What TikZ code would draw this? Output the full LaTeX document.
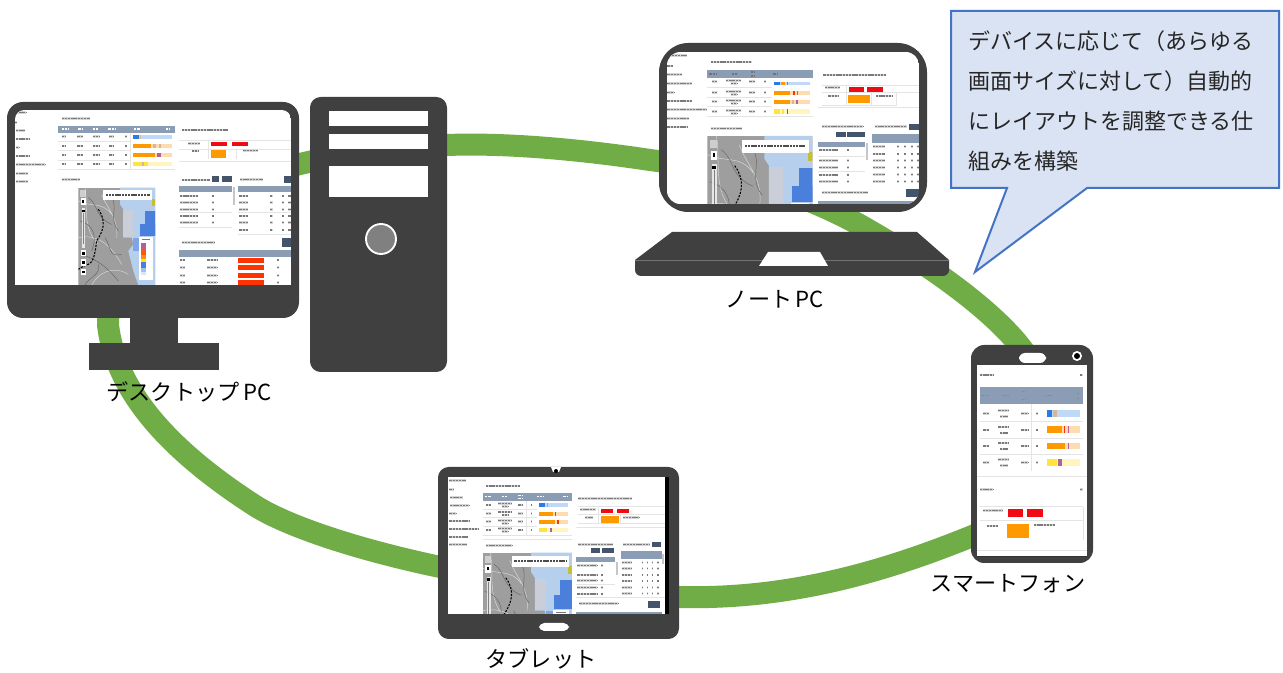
\documentclass[tikz,border=0pt]{standalone}
\usepackage{fontspec}
\setmainfont{Noto Sans CJK JP}
\definecolor{dev}{HTML}{404040}
\definecolor{ringg}{HTML}{70AD47}
\definecolor{hdr}{HTML}{8A9DB5}
\definecolor{btn}{HTML}{44546A}
\definecolor{txg}{HTML}{7A7A7A}
\definecolor{cfill}{HTML}{DAE3F3}
\definecolor{cline}{HTML}{4472C4}
\definecolor{pb}{HTML}{2B7BE4}\definecolor{pbl}{HTML}{BFD9F7}
\definecolor{po}{HTML}{FF9900}\definecolor{pol}{HTML}{FFDCB0}
\definecolor{py}{HTML}{FFE53B}\definecolor{pyl}{HTML}{FFF5BE}
\definecolor{pm}{HTML}{B0609A}\definecolor{pt}{HTML}{D8B890}
\definecolor{rbtn}{HTML}{F00A14}\definecolor{fr}{HTML}{FF3300}
\definecolor{land}{HTML}{9E9E9E}\definecolor{sea}{HTML}{B5CFEC}
\definecolor{pale}{HTML}{C9CED8}\definecolor{deep}{HTML}{4A7FDB}
\definecolor{sep}{HTML}{E4E4E4}
\tikzset{
  blur/.style={draw=txg,line width=1.1pt,dash pattern=on 1.8pt off 0.6pt,preaction={draw=black!16,solid,line width=2.1pt}},
  blurw/.style={draw=white,line width=1.1pt,dash pattern=on 1.8pt off 0.6pt},
  sepl/.style={draw=sep,line width=0.7pt},
  devbody/.style={fill=dev},
  lab/.style={font=\fontsize{16.6}{20}\selectfont,text=black,inner sep=0pt},
  zoomed/.style={x=0.25pt,y=-0.25pt},
}
% blur text line
\newcommand\bt[3]{\draw[blur] (#1,#3) -- (#2,#3);}
% progress bar: x1 split x2 y1 y2 strong light
\newcommand\pbar[7]{\fill[#7] (#1,#4) rectangle (#3,#5);\fill[#6] (#1,#4) rectangle (#2,#5);}
\newcommand\mk[5]{\fill[#5] (#1,#3) rectangle (#2,#4);}
% map: x y scale clipw cliph
\newcommand\mapart[5]{%
\begin{scope}[shift={(#1,#2)},scale=#3]
\clip (0,0) rectangle (#4,#5);
\fill[land] (0,0) rectangle (240,292);
\fill[sea] (125,0) -- (240,0) -- (240,292) -- (180,292) -- (165,250) -- (150,190) -- (165,170) -- (160,150) -- (135,150) -- (135,65) -- (125,50) -- cycle;
\fill[pale] (135,67) rectangle (165,147);
\fill[deep] (200,70) rectangle (240,145);
\fill[deep] (185,110) rectangle (240,145);
\fill[deep!70!white] (165,150) rectangle (200,190);
\fill[yellow!75!black] (220,35) rectangle (240,55);
\draw[white!85!black,line width=0.35pt] (0,40) .. controls (40,60) and (70,40) .. (100,80) (20,0) .. controls (30,60) and (10,120) .. (60,170) (0,150) .. controls (50,140) and (90,160) .. (130,230) (40,292) .. controls (70,240) and (120,240) .. (150,260) (70,20) .. controls (90,70) and (120,90) .. (115,150);
\draw[black!60,line width=0.35pt] (30,30) .. controls (60,50) and (50,90) .. (100,110) (5,100) .. controls (40,110) and (60,140) .. (40,190) (80,150) .. controls (100,180) and (90,210) .. (130,200) (10,200) .. controls (50,215) and (80,230) .. (120,280) (100,30) .. controls (120,60) and (90,90) .. (120,130) (60,230) .. controls (70,260) and (30,270) .. (20,292);
\draw[black,line width=0.8pt,dash pattern=on 1.6pt off 1pt] (60,65) .. controls (85,100) and (75,130) .. (55,160) .. controls (50,200) and (45,225) .. (30,230) .. controls (15,235) and (8,240) .. (0,245);
\fill[white] (75,8) rectangle (222,38);
\draw[draw=black!70,line width=1.1pt,dash pattern=on 1.8pt off 0.6pt] (82,22) -- (215,22);
\fill[white,opacity=0.5] (5,8) rectangle (22,27);
\fill[white] (7,32) rectangle (22,52);
\fill[black] (12,38) rectangle (17,46);
\fill[white,opacity=0.75] (10,62) rectangle (21,180);
\draw[gray,line width=0.6pt] (15,75) -- (15,170);
\fill[black] (11,66) rectangle (19,72);
\fill[white] (8,188) rectangle (22,206);\fill[black] (11,192) rectangle (19,202);
\fill[white] (8,214) rectangle (22,234);\fill[black] (11,220) rectangle (19,228);
\fill[white] (8,244) rectangle (22,262);\fill[black] (11,250) rectangle (19,256);
\fill[white] (183,147) rectangle (223,277);
\fill[pm] (188,167) rectangle (202,187);
\fill[orange!70!red] (188,187) rectangle (202,202);
\fill[orange!90!white] (188,202) rectangle (202,214);
\fill[yellow!90!orange] (188,214) rectangle (202,224);
\fill[deep] (188,224) rectangle (202,240);
\fill[deep!50!white] (188,240) rectangle (202,252);
\fill[deep!20!white] (188,252) rectangle (202,262);
\draw[draw=txg,line width=0.8pt] (190,155) -- (216,155);
\end{scope}}
\begin{document}
\begin{tikzpicture}[x=0.75pt,y=-0.75pt]
\useasboundingbox (0,0) rectangle (1283,673);
\fill[white] (0,0) rectangle (1283,673);
% ring
\draw[ringg,line width=16.5pt] (108,325) .. controls (115,385) and (160,445) .. (257,507) .. controls (320,545) and (500,590) .. (680,597) .. controls (800,600) and (900,565) .. (970,537) .. controls (1065,498) and (1075,410) .. (1015,340) .. controls (980,300) and (920,260) .. (872,232) .. controls (810,195) and (730,170) .. (650,160) .. controls (570,148) and (500,143) .. (447,145) .. controls (380,146) and (110,170) .. (108,325) -- cycle;

% ---------- desktop
\fill[devbody,rounded corners=12] (7,102) rectangle (299,318);
\fill[devbody] (130,316) rectangle (178,344);
\fill[devbody] (89,343) rectangle (219,370);
\begin{scope}
\clip[rounded corners=7] (15,110) rectangle (291,300);
\clip (15,110) rectangle (291,285);
\fill[white] (15,110) rectangle (291,285);
\begin{scope}[shift={(0,90)},zoomed]
\bt{48}{78}{68}\bt{46}{52}{97}\bt{48}{75}{122}\bt{48}{88}{147}\bt{48}{58}{173}\bt{48}{90}{198}\bt{48}{135}{224}\bt{48}{85}{250}\bt{48}{85}{275}
\bt{185}{270}{85}
\fill[hdr] (175,108) rectangle (525,128);
\draw[blurw] (185,117) -- (205,117) (235,117) -- (250,117) (278,117) -- (295,117) (325,117) -- (345,117) (402,117) -- (420,117) (498,117) -- (510,117);
\foreach \yy in {140,168,195,222}{\bt{185}{198}{\yy}\bt{232}{250}{\yy}\bt{278}{300}{\yy}\bt{328}{342}{\yy}\bt{375}{382}{\yy}}
\draw[sepl] (175,155) -- (390,155) (175,182) -- (390,182) (175,210) -- (390,210) (175,237) -- (525,237) (390,128) -- (390,237);
\pbar{398}{418}{517}{134}{148}{pb}{pbl}\mk{420}{424}{134}{148}{pt}
\pbar{398}{453}{517}{162}{175}{po}{pol}\mk{460}{468}{162}{175}{pt}\mk{478}{484}{162}{175}{pt}
\pbar{398}{465}{517}{188}{200}{po}{pol}\mk{470}{482}{188}{200}{pm}
\pbar{398}{445}{517}{215}{228}{py}{pyl}\mk{425}{432}{215}{228}{pt}
\bt{545}{685}{120}
\draw[sepl] (537,150) -- (873,150) (537,178) -- (873,178) (537,215) -- (873,215) (625,150) -- (625,208) (710,178) -- (710,208);
\bt{565}{600}{160}\bt{575}{595}{183}\bt{730}{775}{182}
\fill[rbtn] (632,155) rectangle (680,168);\fill[rbtn] (695,155) rectangle (745,168);
\fill[po] (632,180) rectangle (678,205);
\bt{185}{240}{268}
\mapart{235}{293}{1}{230}{292}
\bt{545}{630}{270}
\fill[btn] (637,258) rectangle (657,275);\fill[btn] (665,258) rectangle (697,275);
\fill[hdr] (537,288) rectangle (697,305);
\foreach \yy in {318,338,358,378,398}{\bt{540}{595}{\yy}\bt{635}{642}{\yy}}
\draw[sepl] (537,368) -- (697,368) (537,413) -- (697,413);
\fill[sep!70!gray] (699,290) rectangle (705,345);
\bt{720}{790}{268}
\fill[btn] (853,258) rectangle (873,278);
\fill[hdr] (715,288) rectangle (873,305);
\foreach \yy in {318,338,358,378,398,420}{\bt{718}{745}{\yy}\bt{810}{818}{\yy}\bt{845}{852}{\yy}\bt{865}{872}{\yy}}
\draw[sepl] (715,368) -- (873,368) (715,432) -- (873,432);
\bt{545}{645}{458}
\fill[btn] (845,445) rectangle (873,470);
\fill[hdr] (537,480) rectangle (873,500);
\foreach \yy in {510,533,556,578}{\bt{540}{555}{\yy}\bt{622}{652}{\yy}\fill[fr] (713,\yy-7) rectangle (793,\yy+8);\bt{832}{838}{\yy}}
\end{scope}
\end{scope}

% ---------- tower
\fill[devbody,rounded corners=8] (310,97) rectangle (447,372);
\fill[white] (329,111) rectangle (428,126);
\fill[white] (329,134) rectangle (428,149);
\fill[white] (329,166) rectangle (428,197);
\draw[white,fill=gray,line width=1.4pt] (381,239) circle (15);

% ---------- laptop
\fill[devbody,rounded corners=22] (659,43) rectangle (927,212);
\fill[devbody] (672,232) -- (917,232) -- (949,260) -- (949,270) arc (0:90:6) -- (641,276) arc (90:180:6) -- (635,260) -- cycle;
\draw[gray!80!dev,line width=0.3pt] (635,260) -- (949,260);
\fill[white] (768,252) -- (820,252) -- (828,266) -- (759,266) -- cycle;
\begin{scope}
\clip[rounded corners=10] (667,52) rectangle (919,204);
\fill[white] (667,52) rectangle (919,204);
\begin{scope}[shift={(650,40)},zoomed]
\bt{55}{110}{47}\bt{52}{68}{78}\bt{52}{95}{104}\bt{52}{125}{130}\bt{52}{72}{157}\bt{52}{125}{183}\bt{52}{172}{208}\bt{52}{118}{235}\bt{52}{115}{261}
\bt{182}{305}{66}
\fill[hdr] (172,90) rectangle (490,115);
\draw[blurw,draw=black!55] (178,102) -- (198,102) (245,102) -- (260,102) (302,96) -- (312,96) (302,108) -- (312,108) (370,102) -- (385,102);
\foreach \yy in {125,158,185,215}{\bt{185}{200}{\yy}\bt{228}{272}{\yy-4}\bt{242}{262}{\yy+5}\bt{298}{315}{\yy}\bt{342}{348}{\yy}}
\draw[sepl] (172,143) -- (365,143) (172,172) -- (365,172) (172,200) -- (365,200) (172,230) -- (490,230);
\pbar{373}{390}{480}{125}{135}{pb}{pbl}\mk{392}{405}{125}{135}{po}\mk{410}{414}{125}{135}{pm}
\pbar{373}{420}{480}{152}{165}{po}{pol}\mk{430}{436}{152}{165}{fr}\mk{440}{445}{152}{165}{pm}
\pbar{373}{420}{480}{180}{192}{po}{pol}\mk{425}{432}{180}{192}{pt}\mk{438}{445}{180}{192}{pm}
\pbar{373}{390}{480}{208}{222}{py}{pyl}\mk{395}{402}{208}{222}{py}\mk{410}{414}{208}{222}{fr}
\bt{520}{708}{105}
\draw[sepl] (515,135) -- (808,135) (515,158) -- (808,158) (515,195) -- (740,195) (505,201) -- (808,201) (590,135) -- (590,195) (665,158) -- (665,195) (740,158) -- (740,195);
\bt{525}{570}{143}\bt{535}{565}{168}\bt{678}{728}{168}
\fill[rbtn] (597,141) rectangle (642,155);\fill[rbtn] (652,141) rectangle (698,155);
\fill[po] (595,165) rectangle (660,190);
\bt{182}{275}{265}
\mapart{172}{288}{1.37}{230}{149}
\bt{515}{640}{260}
\fill[btn] (558,275) rectangle (588,290);\fill[btn] (592,275) rectangle (645,290);
\fill[hdr] (505,305) rectangle (645,322);
\foreach \yy in {330,362,382,405,425}{\bt{508}{565}{\yy}\bt{590}{597}{\yy}}
\draw[sepl] (505,350) -- (645,350) (505,395) -- (645,395);
\fill[sep!70!gray] (647,308) rectangle (655,360);
\bt{675}{770}{260}
\fill[btn] (776,252) rectangle (808,270);
\fill[hdr] (665,282) rectangle (808,308);
\foreach \yy in {320,342,362,383,403,424}{\bt{668}{705}{\yy}\bt{742}{748}{\yy}\bt{762}{768}{\yy}\bt{782}{788}{\yy}\bt{800}{806}{\yy}}
\bt{515}{655}{458}
\fill[btn] (767,448) rectangle (806,472);
\fill[hdr] (505,483) rectangle (808,495);
\end{scope}
\end{scope}

% ---------- tablet
\fill[devbody,rounded corners=8] (438,467) rectangle (679,639);
\fill[white] (551,467) -- (561,467) -- (559,472) -- (553,472) -- cycle;
\fill[black] (556,471) circle (2);
\fill[white,rounded corners=4] (539,623) rectangle (569,631);
\begin{scope}
\clip (448,477) rectangle (669,614);
\fill[white] (448,477) rectangle (669,614);
\begin{scope}[shift={(430,460)},zoomed]
\bt{58}{108}{62}\bt{58}{72}{88}\bt{60}{98}{112}\bt{60}{118}{136}\bt{58}{78}{160}\bt{58}{120}{183}\bt{58}{148}{207}\bt{58}{115}{231}\bt{58}{112}{254}
\bt{168}{270}{78}
\fill[hdr] (158,98) rectangle (425,124);
\draw[blurw] (165,110) -- (182,110) (215,110) -- (232,110) (265,106) -- (275,106) (265,116) -- (275,116) (320,110) -- (340,110) (400,110) -- (412,110);
\foreach \yy in {135,160,185,210}{\bt{168}{182}{\yy}\bt{205}{245}{\yy-4}\bt{215}{235}{\yy+5}\bt{265}{280}{\yy}\bt{302}{306}{\yy}}
\draw[sepl] (158,148) -- (320,148) (158,173) -- (320,173) (158,198) -- (320,198) (158,225) -- (425,225) (158,238) -- (425,238) (290,124) -- (290,225);
\pbar{328}{345}{415}{130}{142}{pb}{pbl}\mk{350}{355}{130}{142}{po}
\pbar{328}{370}{415}{155}{167}{po}{pol}\mk{375}{379}{155}{167}{fr}
\pbar{328}{375}{415}{180}{192}{po}{pol}\mk{380}{386}{180}{192}{fr}
\pbar{328}{350}{415}{205}{217}{py}{pyl}\mk{361}{365}{205}{217}{pm}
\bt{445}{605}{115}
\draw[sepl] (445,140) -- (705,140) (445,163) -- (705,163) (445,190) -- (705,190) (437,203) -- (705,203) (505,140) -- (505,190) (570,163) -- (570,190);
\bt{450}{498}{148}\bt{465}{490}{172}\bt{578}{628}{172}
\fill[rbtn] (513,146) rectangle (550,159);\fill[rbtn] (560,146) rectangle (597,159);
\fill[po] (513,167) rectangle (568,190);
\bt{168}{245}{256}
\mapart{158}{278}{1.16}{231}{159}
\bt{445}{550}{253}
\fill[btn] (483,265) rectangle (510,280);\fill[btn] (515,265) rectangle (553,280);
\fill[hdr] (437,290) rectangle (555,307);
\foreach \yy in {317,345,362,382,402}{\bt{442}{500}{\yy}\bt{512}{518}{\yy}}
\draw[sepl] (437,373) -- (555,373) (437,413) -- (705,413);
\fill[sep!70!gray] (557,305) rectangle (563,345);
\bt{580}{660}{253}
\fill[btn] (665,245) rectangle (692,262);
\fill[hdr] (572,272) rectangle (695,298);
\foreach \yy in {308,325,345,363,382,400}{\bt{575}{605}{\yy}\bt{635}{640}{\yy}\bt{650}{655}{\yy}\bt{665}{670}{\yy}\bt{682}{687}{\yy}}
\fill[sep!70!gray] (697,282) rectangle (702,312);
\bt{448}{565}{430}
\fill[btn] (655,422) rectangle (690,445);
\fill[hdr] (437,455) rectangle (695,462);
\fill[black] (705,52) rectangle (717,462);
\end{scope}
\end{scope}

% ---------- phone
\fill[devbody,rounded corners=10] (971,345) rectangle (1093,563);
\fill[white,rounded corners=4.5] (1019,353) rectangle (1046,363);
\fill[white] (1077,356) circle (5);
\fill[black] (1077,356) circle (3);
\begin{scope}
\clip (977,365) rectangle (1087,557);
\fill[white] (977,365) rectangle (1087,557);
\begin{scope}[shift={(960,340)},zoomed]
\bt{60}{100}{105}\bt{360}{368}{105}
\fill[hdr] (60,142) rectangle (370,193);
\draw[blurw,draw=black!45] (64,167) -- (85,167) (130,167) -- (148,167) (185,155) -- (198,155) (185,178) -- (198,178) (255,167) -- (275,167) (350,160) -- (358,160) (350,175) -- (358,175);
\foreach \yy in {220,270,318,367}{\bt{70}{88}{\yy}\bt{115}{148}{\yy-9}\bt{120}{145}{\yy+9}\bt{184}{205}{\yy}\bt{228}{235}{\yy}}
\draw[sepl] (60,245) -- (370,245) (60,295) -- (370,295) (60,343) -- (370,343) (50,408) -- (380,408) (215,193) -- (215,392);
\pbar{262}{277}{360}{210}{230}{pb}{pbl}\mk{278}{290}{210}{230}{pt}
\pbar{262}{307}{360}{258}{280}{po}{pol}\mk{313}{316}{258}{280}{fr}\mk{323}{327}{258}{280}{pm}
\pbar{262}{315}{360}{308}{328}{po}{pol}\mk{323}{328}{308}{328}{pm}
\pbar{262}{292}{360}{356}{378}{py}{pyl}\mk{295}{306}{356}{378}{pm}
\bt{60}{100}{448}\bt{360}{368}{448}
\draw[sepl] (60,500) -- (370,500) (60,540) -- (370,540) (370,500) -- (370,600);
\bt{68}{130}{512}\bt{80}{115}{558}\bt{222}{285}{555}
\fill[rbtn] (145,508) rectangle (190,530);\fill[rbtn] (202,508) rectangle (250,530);
\fill[po] (142,552) rectangle (208,594);
\draw[sepl] (50,632) -- (380,632);
\fill[black!80] (50,648) rectangle (380,652);
\end{scope}
\end{scope}

% ---------- callout
\draw[cline,fill=cfill,line width=1.5pt,miter limit=20] (951,11) -- (1279,11) -- (1279,188) -- (1087,188) -- (975,272) -- (1007,188) -- (951,188) -- cycle;
\node[anchor=north west,inner sep=0pt,align=left,text=black!85,font=\fontsize{16.5}{30}\selectfont] (note) at (968,30) {デバイスに応じて（あらゆる\\画面サイズに対して）自動的\\にレイアウトを調整できる仕\\組みを構築};

% ---------- labels
\node[lab] (lbdesk) at (189,392) {デスクトップ\,PC};
\node[lab] (lbnote) at (775,299) {ノート\,PC};
\node[lab] (lbphone) at (1008,584) {スマートフォン};
\node[lab] (lbtab) at (541,659) {タブレット};
\end{tikzpicture}
\end{document}
